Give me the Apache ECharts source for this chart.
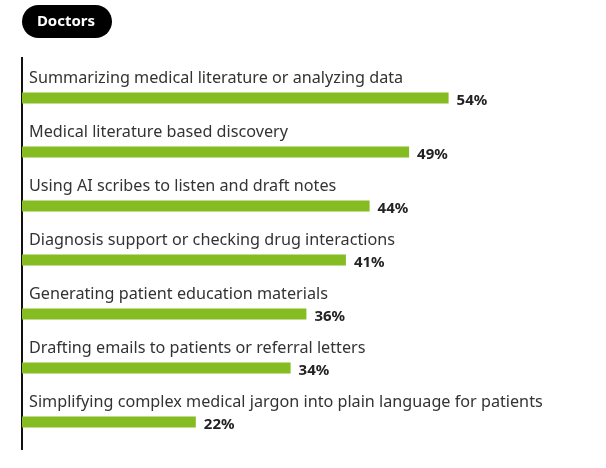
<!DOCTYPE html>
<html>
<head>
<meta charset="utf-8">
<script src="https://cdn.jsdelivr.net/npm/echarts@6/dist/echarts.min.js"></script>
<style>
html,body{margin:0;padding:0;background:#fff;}
#chart{width:606px;height:468px;}
</style>
</head>
<body>
<div id="chart"></div>
<script>
var categories = [
	'Summarizing medical literature or analyzing data',
	'Medical literature based discovery',
	'Using AI scribes to listen and draft notes',
	'Diagnosis support or checking drug interactions',
	'Generating patient education materials',
	'Drafting emails to patients or referral letters',
	'Simplifying complex medical jargon into plain language for patients'
];
var values = [54, 49, 44, 41, 36, 34, 22];
var title = 'Doctors';

var font = '"Noto Sans", "Open Sans", sans-serif';
var myChart = echarts.init(document.getElementById('chart'));
var option = {
	animation: false,
	grid: {left: 22, right: 110, top: 71, height: 378},
	xAxis: {
		type: 'value', min: 0, max: 60,
		show: false
	},
	yAxis: {
		type: 'category', data: categories, inverse: true,
		axisLine: {show: false}, axisTick: {show: false}, axisLabel: {show: false}
	},
	graphic: [
		{type: 'rect', left: 22, top: 5, shape: {width: 90, height: 33, r: 16.5}, style: {fill: '#000'}},
		{type: 'text', x: 66, y: 22, style: {text: title, fill: '#fff', font: 'bold 15px ' + font, textAlign: 'center', textVerticalAlign: 'middle'}},
		{type: 'line', shape: {x1: 22, y1: 57, x2: 22, y2: 450}, style: {stroke: '#111', lineWidth: 2}}
	],
	series: [
		{
			type: 'bar',
			data: values,
			barWidth: 11,
			itemStyle: {color: '#84bc22'},
			label: {
				show: true, position: 'right', distance: 8, offset: [0, 3],
				formatter: '{c}%',
				fontFamily: font, fontWeight: 'bold', fontSize: 15, color: '#222'
			}
		},
		{
			type: 'bar',
			data: values,
			barWidth: 11,
			barGap: '-100%',
			itemStyle: {color: 'rgba(0,0,0,0)'},
			silent: true,
			label: {
				show: true, position: [7, -4], align: 'left', verticalAlign: 'bottom',
				formatter: function (p) { return p.name; },
				fontFamily: font, fontSize: 16.2, lineHeight: 20, color: '#333'
			}
		}
	]
};
myChart.setOption(option);
window.addEventListener("resize", function(){
	myChart.resize();
});
</script>
</body>
</html>
